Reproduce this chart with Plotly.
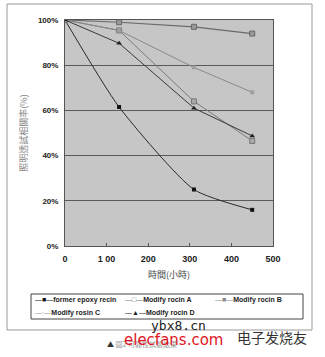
import plotly.graph_objects as go

hours = [0, 130, 310, 450]
epoxy = [100, 61.5, 25, 16]
resin_a = [100, 99, 97, 94]
resin_b = [100, 95.4, 64, 46.5]
resin_c = [100, 95.4, 79, 68]
resin_d = [100, 89.7, 61, 48.7]

x_ticks = [0, 100, 200, 300, 400, 500]
x_tick_text = ["0", "1 00", "200", "300", "400", "500"]
y_ticks = [0, 20, 40, 60, 80, 100]
y_tick_text = ["0%", "20%", "40%", "60%", "80%", "100%"]

names = ["former epoxy recin", "Modify rocin A", "Modify rocin B", "Modify rosin C", "Modify rocin D"]
legend_glyphs = ["—■—", "—□—", "—■—", "—·—", "—▲—"]


def px(x):
    return (x - 65) / 208


def py(y):
    return (246 - y) / 226


fig = go.Figure()
fig.add_trace(go.Scatter(x=hours, y=epoxy, name=names[0], mode="lines+markers",
                         line=dict(color="#2a2a2a", width=1, shape="spline", smoothing=0.6),
                         marker=dict(symbol="square", size=4, color="#111")))
fig.add_trace(go.Scatter(x=hours, y=resin_a, name=names[1], mode="lines+markers",
                         line=dict(color="#6a6a6a", width=1.2),
                         marker=dict(symbol="square", size=5, color="#9a9a9a", line=dict(color="#666", width=1))))
fig.add_trace(go.Scatter(x=hours, y=resin_b, name=names[2], mode="lines+markers",
                         line=dict(color="#7a7a7a", width=1),
                         marker=dict(symbol="square", size=5, color="#aaaaaa", line=dict(color="#777", width=1))))
fig.add_trace(go.Scatter(x=hours, y=resin_c, name=names[3], mode="lines+markers",
                         line=dict(color="#8a8a8a", width=1),
                         marker=dict(symbol="square", size=4, color="#a0a0a0")))
fig.add_trace(go.Scatter(x=hours, y=resin_d, name=names[4], mode="lines+markers",
                         line=dict(color="#3a3a3a", width=1),
                         marker=dict(symbol="triangle-up", size=5, color="#222")))

legend_pos = [(33, 300), (123, 300), (213, 300), (33, 313), (123, 313)]
glyph_colors = ["#111", "#777", "#888", "#999", "#222"]
annotations = []
for name, glyph, (lx, ly), gc in zip(names, legend_glyphs, legend_pos, glyph_colors):
    annotations.append(dict(
        text=f"<span style='color:{gc}'>{glyph}</span><b>{name}</b>",
        xref="paper", yref="paper", x=px(lx), y=py(ly), xanchor="left", yanchor="middle",
        showarrow=False, font=dict(family="Liberation Sans", size=7, color="#222")))

annotations += [
    dict(text="▲ <span style='color:#999'>圖2 可靠性試驗結果</span>", xref="paper", yref="paper",
         x=px(105), y=py(344), xanchor="left", yanchor="middle",
         showarrow=False, font=dict(family="Noto Sans CJK TC", size=7, color="#333")),
    dict(text="ybx8.cn", xref="paper", yref="paper", x=px(178), y=py(325),
         xanchor="center", yanchor="middle",
         showarrow=False, font=dict(family="DejaVu Sans Mono", size=13, color="#222")),
    dict(text="elecfans.com", xref="paper", yref="paper", x=px(173), y=py(351),
         xanchor="center", yanchor="bottom",
         showarrow=False, font=dict(family="DejaVu Sans", size=15, color="#e0141e")),
    dict(text="电子发烧友", xref="paper", yref="paper", x=px(272), y=py(337),
         xanchor="center", yanchor="middle",
         showarrow=False, font=dict(family="Noto Sans CJK SC", size=14, color="#333")),
]

fig.update_layout(
    width=325, height=357,
    margin=dict(l=65, r=52, t=20, b=111),
    paper_bgcolor="white",
    plot_bgcolor="#c6c6c6",
    font=dict(family="Liberation Sans", size=8, color="#333"),
    xaxis=dict(range=[0, 500], tickvals=x_ticks, ticktext=x_tick_text, showgrid=False,
               showline=True, linecolor="#555", linewidth=1, mirror=True, ticks="inside",
               ticklen=3, tickcolor="#555", zeroline=False, ticklabelstandoff=4,
               tickfont=dict(family="Liberation Sans", size=9, color="#222", weight="bold"),
               title=dict(text="時間(小時)", font=dict(family="Noto Sans CJK TC", size=9, color="#444"),
                          standoff=8)),
    yaxis=dict(range=[0, 100], tickvals=y_ticks, ticktext=y_tick_text, showgrid=True,
               gridcolor="#5a5a5a", gridwidth=1, showline=True, linecolor="#555", linewidth=1,
               mirror=True, zeroline=False, ticks="", ticklabelstandoff=4,
               tickfont=dict(family="Liberation Sans", size=8, color="#222", weight="bold"),
               title=dict(text="照明透試相關率(%)", font=dict(family="Noto Sans CJK TC", size=9, color="#888"),
                          standoff=8)),
    showlegend=False,
    shapes=[
        dict(type="rect", xref="paper", yref="paper", x0=px(7), x1=px(312), y0=py(330), y1=py(4),
             line=dict(color="#999", width=1), layer="below"),
        dict(type="rect", xref="paper", yref="paper", x0=px(31), x1=px(303), y0=py(319), y1=py(294),
             line=dict(color="#444", width=1), fillcolor="white", layer="below"),
    ],
    annotations=annotations,
)

fig.write_html("out.html")
